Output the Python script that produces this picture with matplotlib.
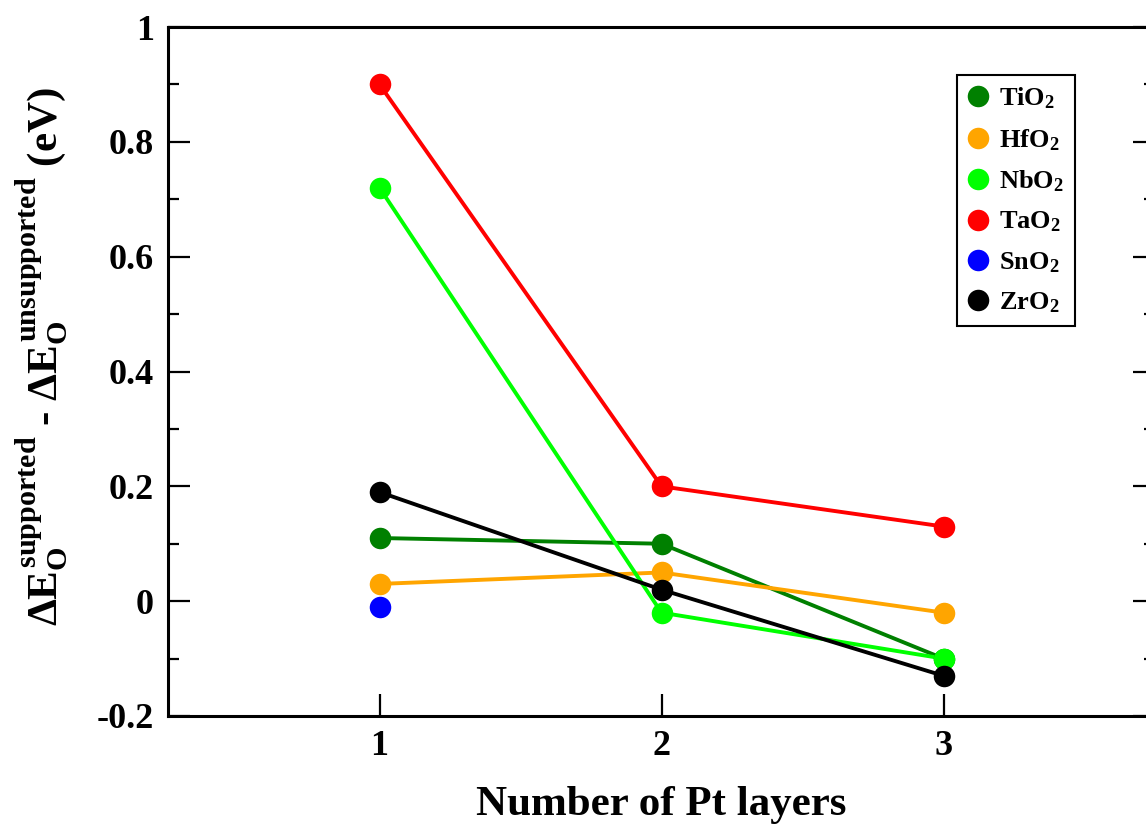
import matplotlib
matplotlib.use("Agg")
import matplotlib.pyplot as plt
from matplotlib.ticker import MultipleLocator, FuncFormatter

plt.rcParams["font.family"] = ["Liberation Serif", "DejaVu Serif"]
plt.rcParams["font.weight"] = "bold"
plt.rcParams["axes.labelweight"] = "bold"
plt.rcParams["mathtext.fontset"] = "custom"
plt.rcParams["mathtext.rm"] = "Liberation Serif:bold"
plt.rcParams["mathtext.it"] = "Liberation Serif:bold"
plt.rcParams["mathtext.bf"] = "Liberation Serif:bold"

# data
layers = [1, 2, 3]
tio2 = [0.11, 0.10, -0.10]
hfo2 = [0.03, 0.05, -0.02]
nbo2 = [0.72, -0.02, -0.10]
tao2 = [0.90, 0.20, 0.13]
sno2_x = [1]
sno2 = [-0.01]
zro2 = [0.19, 0.02, -0.13]

series = [
    (layers, tio2, "#008000", r"TiO$_2$"),
    (layers, hfo2, "#ffa500", r"HfO$_2$"),
    (layers, nbo2, "#00ff00", r"NbO$_2$"),
    (layers, tao2, "#ff0000", r"TaO$_2$"),
    (sno2_x, sno2, "#0000ff", r"SnO$_2$"),
    (layers, zro2, "#000000", r"ZrO$_2$"),
]


def fmt(v, pos):
    if abs(v) < 1e-9:
        return "0"
    return f"{v:.1f}".rstrip("0").rstrip(".")


fig = plt.figure(figsize=(11.46, 8.25), dpi=100)
ax = fig.add_axes([168 / 1146, 1 - 716 / 825, (1155 - 168) / 1146, (716 - 27) / 825])

handles = []
for xs, ys, col, lab in series:
    ax.plot(xs, ys, color=col, lw=2.8, zorder=2)
    h, = ax.plot(xs, ys, "o", color=col, ms=15.5, mec="none", zorder=3, label=lab)
    handles.append(h)

ax.set_xlim(0.25, 3.75)
ax.set_ylim(-0.2, 1.0)
ax.set_xticks(layers)
ax.yaxis.set_major_locator(MultipleLocator(0.2))
ax.yaxis.set_minor_locator(MultipleLocator(0.1))
ax.yaxis.set_major_formatter(FuncFormatter(fmt))

for s in ax.spines.values():
    s.set_linewidth(2.2)
ax.tick_params(axis="both", which="major", direction="in", length=16, width=1.6,
               labelsize=26, pad=10)
ax.tick_params(axis="y", which="both", left=True, right=True)
ax.tick_params(axis="y", which="minor", direction="in", length=8, width=1.6)
ax.tick_params(axis="x", which="both", top=False)
for t in ax.get_xticklabels() + ax.get_yticklabels():
    t.set_fontweight("bold")

ax.set_xlabel("Number of Pt layers", fontsize=31, fontweight="bold", labelpad=17)
ax.set_ylabel(r"$\Delta E_O^{supported}$ - $\Delta E_O^{unsupported}$ (eV)",
              fontsize=31, fontweight="bold", labelpad=19)
ax.yaxis.label.set_y(0.522)

leg = ax.legend(handles=handles, loc="upper left",
                bbox_to_anchor=(957 / 1146, 1 - 75 / 825),
                bbox_transform=fig.transFigure, frameon=True,
                fancybox=False, edgecolor="black", handlelength=0.8,
                handletextpad=0.4, labelspacing=0.6, borderpad=0.4,
                borderaxespad=0, prop={"weight": "bold", "size": 19})
leg.get_frame().set_linewidth(1.5)
leg.get_frame().set_alpha(1)

fig.savefig("out.png", dpi=100)
